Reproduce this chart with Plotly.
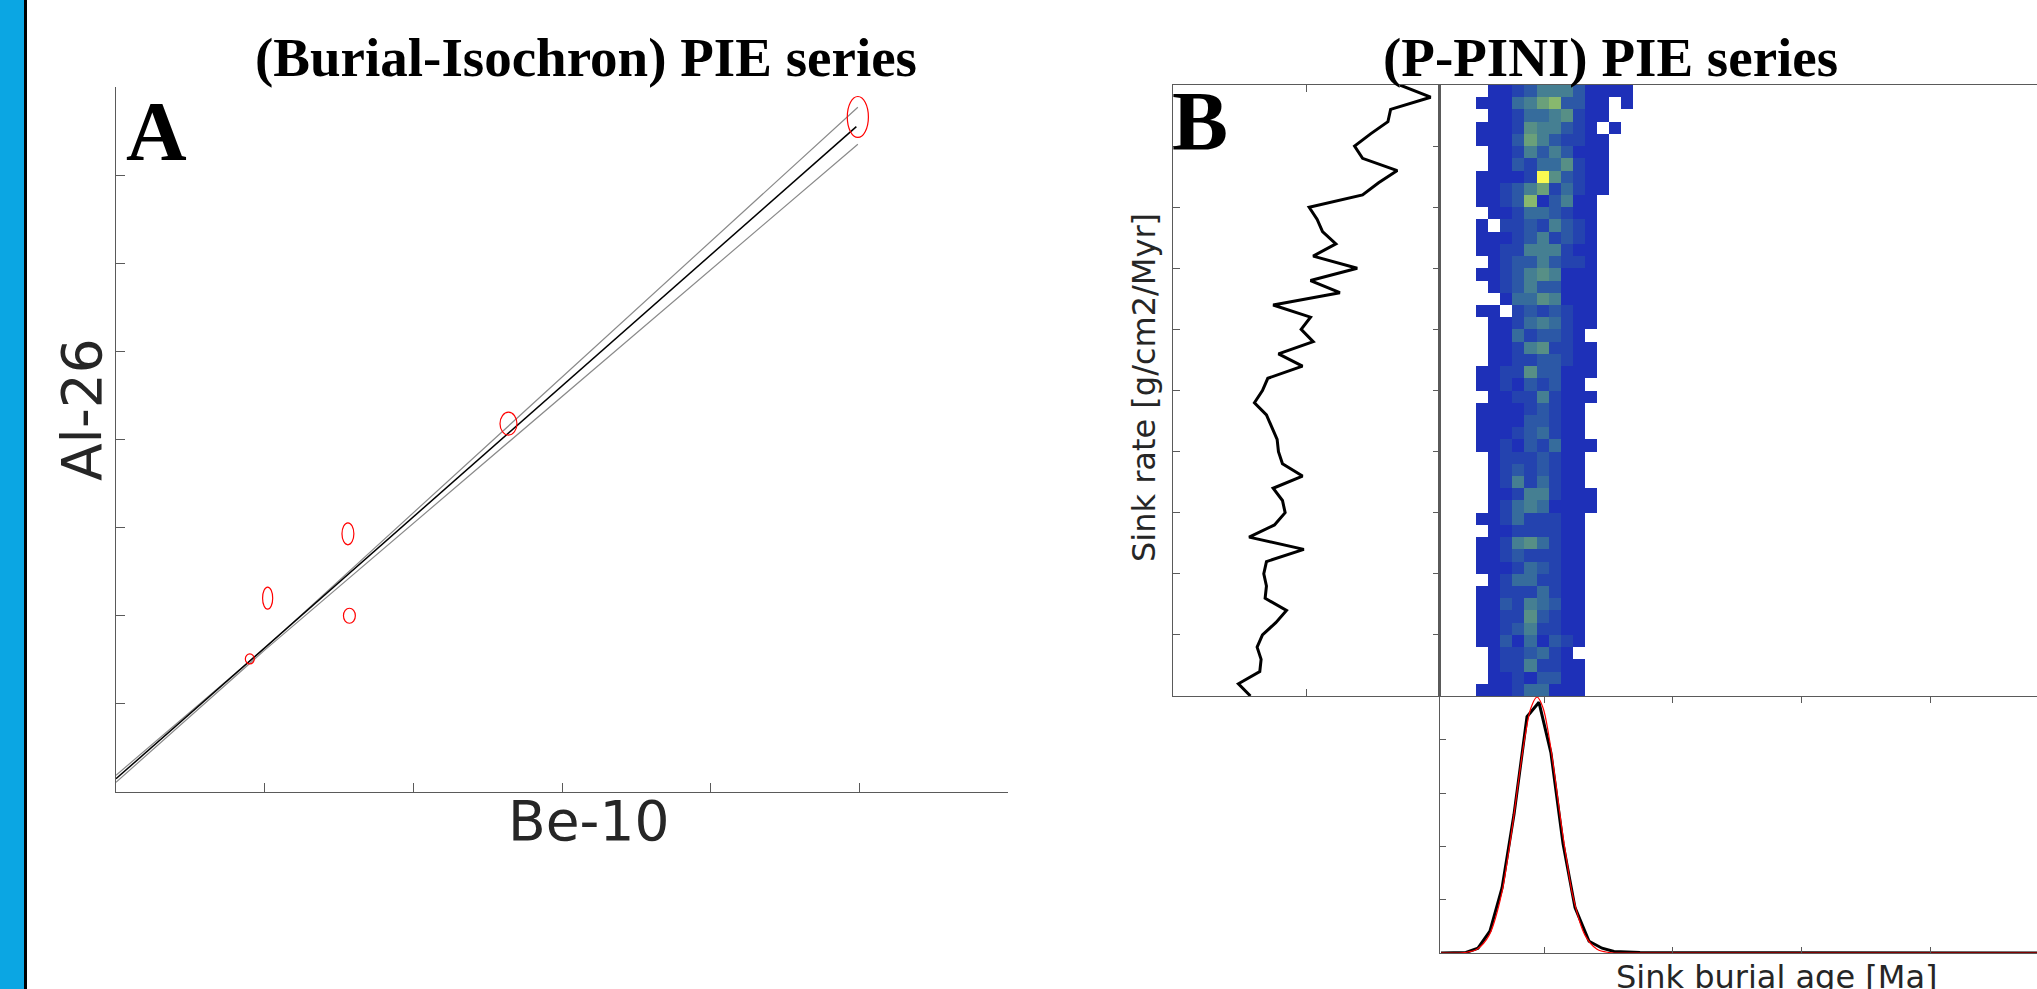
import plotly.graph_objects as go

W, H = 2037, 989

# ---------------- Panel A : burial isochron ----------------
be10 = [0.90, 1.02, 1.56, 1.57, 2.64, 4.99]
al26 = [1.51, 2.20, 2.93, 2.00, 4.18, 7.66]
be10_err = [0.030, 0.034, 0.040, 0.040, 0.057, 0.071]
al26_err = [0.057, 0.125, 0.125, 0.085, 0.130, 0.232]
fit_x = [0.0, 4.98]
fit_y = [0.15, 7.55]
band_x = [0.0, 1.0, 4.99]
band_upper = [0.19, 1.63, 7.77]
band_lower = [0.11, 1.61, 7.35]

# ---------------- Panel B : P-PINI ----------------
# marginal profile of sink rate (one value per bin edge, top to bottom)
rate_edges = list(range(50, -1, -1))
profile = [1.70, 1.93, 1.63, 1.61, 1.48, 1.36, 1.42, 1.68, 1.54, 1.42,
           1.02, 1.08, 1.12, 1.22, 1.05, 1.38, 1.03, 1.25, 0.75, 1.03,
           0.96, 1.05, 0.79, 0.97, 0.71, 0.67, 0.61, 0.70, 0.74, 0.78,
           0.79, 0.82, 0.97, 0.75, 0.82, 0.84, 0.76, 0.57, 0.98, 0.70,
           0.68, 0.70, 0.69, 0.85, 0.77, 0.67, 0.63, 0.66, 0.65, 0.49,
           0.58]

# 2-D density (rows: top to bottom, 0 = empty)
age_centers = [0.239, 0.333, 0.426, 0.520, 0.614, 0.708, 0.802, 0.895,
               0.989, 1.083, 1.177, 1.271, 1.364, 1.458, 1.552, 1.646]
rate_centers = [49.5 - r for r in range(50)]
density = [
    [0,0,0,0,1,1,2,3,5,5,5,3,1,1,1,1],
    [0,0,0,1,1,1,4,5,7,8,3,3,1,1,0,1],
    [0,0,0,0,1,1,2,4,4,5,6,2,1,1,0,0],
    [0,0,0,1,1,1,2,6,5,5,3,2,1,0,1,0],
    [0,0,0,1,1,1,3,7,5,3,2,2,1,1,0,0],
    [0,0,0,0,1,1,2,5,3,5,3,1,1,1,0,0],
    [0,0,0,0,1,1,3,2,4,4,6,2,1,1,0,0],
    [0,0,0,1,1,1,1,2,10,6,3,2,1,1,0,0],
    [0,0,0,1,1,2,3,5,7,2,4,2,1,1,0,0],
    [0,0,0,1,1,2,3,8,1,3,5,1,1,0,0,0],
    [0,0,0,0,1,1,2,4,4,3,2,1,1,0,0,0],
    [0,0,0,1,0,2,2,3,2,5,3,2,1,0,0,0],
    [0,0,0,1,1,1,2,3,5,2,3,2,1,0,0,0],
    [0,0,0,1,1,2,2,5,5,5,2,1,1,0,0,0],
    [0,0,0,0,1,2,3,3,5,3,2,2,1,0,0,0],
    [0,0,0,1,1,2,3,5,6,5,1,1,1,0,0,0],
    [0,0,0,0,1,2,3,5,3,3,1,1,1,0,0,0],
    [0,0,0,0,0,1,4,4,6,5,1,1,1,0,0,0],
    [0,0,0,1,1,0,2,3,2,3,2,1,1,0,0,0],
    [0,0,0,0,1,1,2,4,5,4,2,1,1,0,0,0],
    [0,0,0,0,1,1,4,2,3,3,2,1,0,0,0,0],
    [0,0,0,0,1,1,2,5,6,2,2,1,1,0,0,0],
    [0,0,0,0,1,1,2,2,3,3,2,1,1,0,0,0],
    [0,0,0,1,1,2,2,6,3,3,1,1,1,0,0,0],
    [0,0,0,1,1,2,1,3,2,3,1,1,0,0,0,0],
    [0,0,0,0,1,1,2,2,5,2,1,1,1,0,0,0],
    [0,0,0,1,1,1,1,2,3,2,1,1,0,0,0,0],
    [0,0,0,1,1,1,1,3,3,2,1,1,0,0,0,0],
    [0,0,0,1,1,1,2,3,4,2,1,1,0,0,0,0],
    [0,0,0,1,1,2,1,3,2,4,1,1,1,0,0,0],
    [0,0,0,0,1,2,2,2,3,2,1,1,0,0,0,0],
    [0,0,0,0,1,2,3,2,3,2,1,1,0,0,0,0],
    [0,0,0,0,1,2,5,2,4,2,1,1,0,0,0,0],
    [0,0,0,0,1,1,2,5,5,2,1,1,1,0,0,0],
    [0,0,0,0,1,2,4,5,4,1,1,1,1,0,0,0],
    [0,0,0,1,1,2,4,2,2,2,1,1,0,0,0,0],
    [0,0,0,0,1,1,2,2,2,2,1,1,0,0,0,0],
    [0,0,0,1,1,2,5,6,4,2,1,1,0,0,0,0],
    [0,0,0,1,1,2,3,2,2,2,1,1,0,0,0,0],
    [0,0,0,1,1,1,2,4,3,2,1,1,0,0,0,0],
    [0,0,0,0,1,2,4,4,2,2,1,1,0,0,0,0],
    [0,0,0,1,1,2,2,2,4,2,1,1,0,0,0,0],
    [0,0,0,1,1,3,2,5,4,3,1,1,0,0,0,0],
    [0,0,0,1,1,2,2,6,3,2,1,1,0,0,0,0],
    [0,0,0,1,1,2,3,5,2,2,1,1,0,0,0,0],
    [0,0,0,1,1,3,1,4,1,3,2,1,0,0,0,0],
    [0,0,0,0,1,2,2,3,4,2,1,0,0,0,0,0],
    [0,0,0,0,1,2,2,5,2,2,1,1,0,0,0,0],
    [0,0,0,0,1,1,2,1,3,3,1,1,0,0,0,0],
    [0,0,0,1,1,1,2,4,4,1,1,1,0,0,0,0],
]

# marginal burial-age distribution and its gaussian fit
hist_age = [0.200, 0.394, 0.487, 0.580, 0.674, 0.767, 0.868, 0.961,
            1.054, 1.148, 1.241, 1.350, 1.451, 1.544, 1.746, 4.854]
hist_pdf = [0.0, 0.01, 0.09, 0.41, 1.22, 2.60, 4.43, 4.70,
            3.75, 2.05, 0.85, 0.22, 0.09, 0.03, 0.01, 0.0]
fit_age = [0.200, 0.386, 0.479, 0.573, 0.666, 0.713, 0.759, 0.806, 0.852,
           0.899, 0.946, 0.992, 1.039, 1.085, 1.132, 1.179, 1.225, 1.319,
           1.412, 1.505, 1.746, 4.854]
fit_pdf = [0.0, 0.01, 0.07, 0.33, 1.06, 1.70, 2.45, 3.30, 4.05,
           4.60, 4.80, 4.60, 4.05, 3.30, 2.45, 1.70, 1.06, 0.33,
           0.07, 0.01, 0.0, 0.0]

AX = '#5a5a5a'
LBL = '#262626'


def px(x):
    return x / W


def py(y):
    return 1 - y / H


fig = go.Figure()

# ---- Panel A traces
fig.add_trace(go.Scatter(x=band_x, y=band_upper, mode='lines',
                         line=dict(color='#8a8a8a', width=1.2),
                         xaxis='x', yaxis='y', hoverinfo='skip'))
fig.add_trace(go.Scatter(x=band_x, y=band_lower, mode='lines',
                         line=dict(color='#8a8a8a', width=1.2),
                         xaxis='x', yaxis='y', hoverinfo='skip'))
fig.add_trace(go.Scatter(x=fit_x, y=fit_y, mode='lines',
                         line=dict(color='black', width=1.5),
                         xaxis='x', yaxis='y'))

shapes = []
for xc, yc, ex, ey in zip(be10, al26, be10_err, al26_err):
    shapes.append(dict(type='circle', xref='x', yref='y',
                       x0=xc - ex, x1=xc + ex, y0=yc - ey, y1=yc + ey,
                       line=dict(color='red', width=1.2)))

# ---- Panel B traces
colorscale = [
    [0.0, '#1e30b8'], [1/9, '#2443af'], [2/9, '#2c58a6'], [3/9, '#366c9c'],
    [4/9, '#457f92'], [5/9, '#578f86'], [6/9, '#6aa07a'], [7/9, '#88b86e'],
    [8/9, '#b8d860'], [1.0, '#fafa50'],
]
z = [[(v if v > 0 else None) for v in row] for row in density]
fig.add_trace(go.Heatmap(x=age_centers, y=rate_centers, z=z,
                         colorscale=colorscale, zmin=1, zmax=10,
                         showscale=False, xaxis='x3', yaxis='y3'))

fig.add_trace(go.Scatter(x=profile, y=rate_edges, mode='lines',
                         line=dict(color='black', width=3),
                         xaxis='x2', yaxis='y2'))

fig.add_trace(go.Scatter(x=hist_age, y=hist_pdf, mode='lines',
                         line=dict(color='black', width=3),
                         xaxis='x4', yaxis='y4'))
fig.add_trace(go.Scatter(x=fit_age, y=fit_pdf, mode='lines',
                         line=dict(color='red', width=1.2, shape='spline'),
                         xaxis='x4', yaxis='y4'))

common = dict(showgrid=False, zeroline=False, showticklabels=False,
              linecolor=AX, tickcolor=AX, fixedrange=True)

ageR = [0.192, 4.83]

fig.update_layout(
    width=W, height=H,
    margin=dict(l=0, r=0, t=0, b=0),
    paper_bgcolor='white', plot_bgcolor='rgba(0,0,0,0)',
    showlegend=False,
    xaxis=dict(domain=[px(116), px(1008)], range=[0, 6], tickvals=list(range(7)),
               ticks='inside', ticklen=9, showline=True, linewidth=1.3,
               anchor='y', **common),
    yaxis=dict(domain=[py(792), py(87)], range=[0, 8], tickvals=list(range(9)),
               ticks='inside', ticklen=9, showline=True, linewidth=1.3,
               anchor='x', **common),
    xaxis2=dict(domain=[px(1173), px(1440)], range=[0, 2], tickvals=[0, 1, 2],
                ticks='inside', ticklen=7, showline=True, linewidth=1.3,
                mirror='allticks', anchor='y2', **common),
    yaxis2=dict(domain=[py(696), py(85)], range=[0, 50],
                tickvals=list(range(0, 51, 5)), ticks='inside', ticklen=7,
                showline=True, linewidth=1.3, mirror='allticks',
                anchor='x2', **common),
    xaxis3=dict(domain=[px(1440), 1.0], range=ageR, ticks='',
                showline=True, linewidth=1.3, mirror=True,
                anchor='y3', **common),
    yaxis3=dict(domain=[py(696), py(85)], range=[0, 50], ticks='',
                showline=True, linewidth=2, anchor='x3', **common),
    xaxis4=dict(domain=[px(1440), 1.0], range=ageR, tickvals=[1, 2, 3, 4],
                ticks='inside', ticklen=6, showline=True, linewidth=1.3,
                mirror='allticks', anchor='y4', **common),
    yaxis4=dict(domain=[py(953), py(697)], range=[0, 4.8],
                tickvals=[0, 1, 2, 3, 4], ticks='inside', ticklen=6,
                showline=True, linewidth=1.3, anchor='x4', **common),
)

# left blue strip
shapes.append(dict(type='rect', xref='paper', yref='paper', x0=0, x1=px(24),
                   y0=0, y1=1, fillcolor='#0ba6e3', line=dict(width=0),
                   layer='below'))
shapes.append(dict(type='rect', xref='paper', yref='paper', x0=px(24), x1=px(27),
                   y0=0, y1=1, fillcolor='black', line=dict(width=0),
                   layer='below'))
fig.update_layout(shapes=shapes)

serif = 'Liberation Serif, Times New Roman, serif'
sans = 'DejaVu Sans, sans-serif'
ann = [
    dict(text='<b>(Burial-Isochron) PIE series</b>', x=px(586), y=py(57),
         font=dict(family=serif, size=55, color='black')),
    dict(text='<b>(P-PINI) PIE series</b>', x=px(1610), y=py(57),
         font=dict(family=serif, size=55, color='black')),
    dict(text='<b>A</b>', x=px(124), y=py(131), xanchor='left',
         font=dict(family=serif, size=84, color='black')),
    dict(text='<b>B</b>', x=px(1170), y=py(122), xanchor='left',
         font=dict(family=serif, size=84, color='black')),
    dict(text='Al-26', x=px(82), y=py(410), textangle=-90,
         font=dict(family=sans, size=55, color=LBL)),
    dict(text='Be-10', x=px(588), y=py(821),
         font=dict(family=sans, size=55, color=LBL)),
    dict(text='Sink rate [g/cm2/Myr]', x=px(1144), y=py(388), textangle=-90,
         font=dict(family=sans, size=32, color=LBL)),
    dict(text='Sink burial age [Ma]', x=px(1776), y=py(977),
         font=dict(family=sans, size=32, color=LBL)),
]
for a in ann:
    a.setdefault('xanchor', 'center')
    a.setdefault('yanchor', 'middle')
    a.update(xref='paper', yref='paper', showarrow=False)
fig.update_layout(annotations=ann)

fig.write_html('out.html', config={'displayModeBar': False},
               post_script="document.body.style.margin='0px';")
